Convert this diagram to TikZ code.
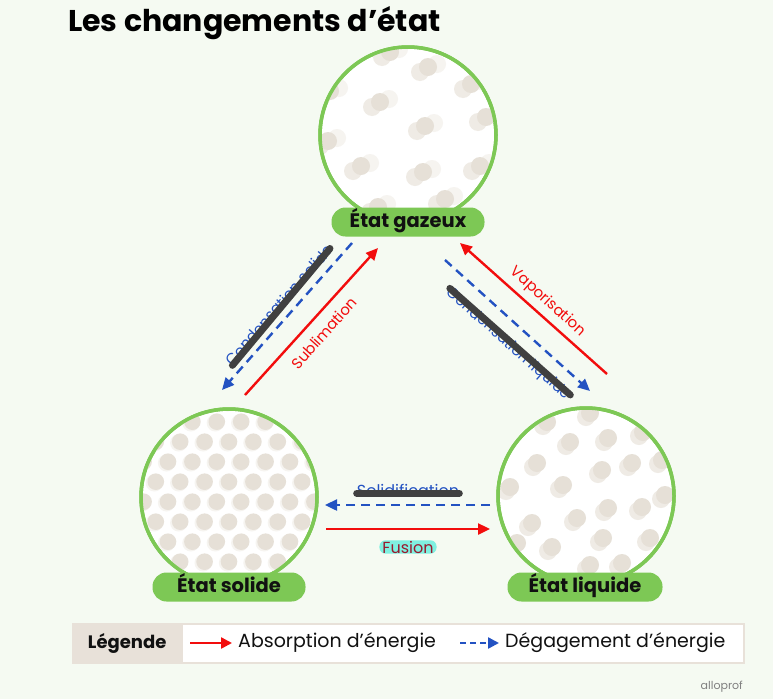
\documentclass[tikz,border=0pt]{standalone}
\usepackage{fontspec}
\setmainfont{Poppins}
\usetikzlibrary{arrows.meta,calc}
\definecolor{bg}{HTML}{F5FAF2}
\definecolor{grn}{HTML}{7DC855}
\definecolor{dotc}{HTML}{E6E0D7}
\definecolor{dotsh}{HTML}{EFEBE5}
\definecolor{dotsh2}{HTML}{F6F4F0}
\definecolor{redc}{HTML}{F20D0D}
\definecolor{bluec}{HTML}{2352C2}
\definecolor{strk}{HTML}{404040}
\definecolor{beige}{HTML}{E8E1D9}
\definecolor{fusc}{HTML}{9A1A2E}
\definecolor{cyanh}{HTML}{80F0E0}
\definecolor{txt}{HTML}{111111}
\begin{document}
\begin{tikzpicture}[x=1pt,y=-1pt,
  redarr/.style={draw=redc, line width=2.4pt, -{Triangle[length=12pt,width=11pt]}},
  bluearr/.style={draw=bluec, line width=2.4pt, dash pattern=on 9pt off 6pt, -{Triangle[length=12pt,width=11pt]}},
  statecirc/.style={circle, draw=grn, line width=3.5pt, minimum size=176pt, inner sep=0pt},
  pill/.style={fill=grn, rounded corners=14pt, minimum height=29pt, minimum width=153pt, inner sep=0pt, text height=14pt, text depth=3pt, text=txt, font=\fontsize{19.5}{21}\selectfont\bfseries},
  redlbl/.style={text=redc, font=\fontsize{15}{16}\selectfont, inner sep=0pt},
  bluelbl/.style={text=bluec, font=\fontsize{15}{16}\selectfont, inner sep=0pt},
  strike/.style={draw=strk, line width=7pt, line cap=round},
  gdot/.style={fill=dotc},
  legtxt/.style={text=txt, font=\fontsize{19}{21}\selectfont, inner sep=0pt, anchor=west}
]
\useasboundingbox (0,0) rectangle (773,699);
\fill[bg] (0,0) rectangle (773,699);

% title
\node[anchor=base west, inner sep=0pt, text=black, font=\fontsize{30}{33}\selectfont\bfseries] (title) at (68,31) {Les changements d’état};

% ---------- circles ----------
\node[statecirc, fill=white] (gas) at (408,135) {};
\node[statecirc, fill=white] (sol) at (229,497) {};
\node[statecirc, fill=white] (liq) at (586,496) {};

% gas particles
\begin{scope}
\clip (408,135) circle (87);
\foreach \x/\y in {390/52,428/67,471/84,330/91,380/102,486/117,425/126,328/141,361/166,423/172,480/166,445/199,378/207}{
  \fill[dotsh2] (\x+9,\y-3) circle (9);
  \fill[dotsh] (\x-8,\y+5) circle (9);
}
\foreach \x/\y in {390/52,428/67,471/84,330/91,380/102,486/117,425/126,328/141,361/166,423/172,480/166,445/199,378/207}{
  \fill[gdot] (\x,\y) circle (9);
}
\end{scope}

% solid particles
\begin{scope}
\clip (229,497) circle (87);
\foreach \k in {-3,...,6}{
  \foreach \j in {-4,...,8}{
    \pgfmathsetmacro\xx{168+24.4*\j+12.2*mod(\k+10,2)}
    \pgfmathsetmacro\yy{461.7+20*\k}
    \fill[dotsh2] (\xx-1.5,\yy+1.2) circle (8.6);
  }
}
\foreach \k in {-3,...,6}{
  \foreach \j in {-4,...,8}{
    \pgfmathsetmacro\xx{168+24.4*\j+12.2*mod(\k+10,2)}
    \pgfmathsetmacro\yy{461.7+20*\k}
    \fill[gdot] (\xx,\yy) circle (8.3);
  }
}
\end{scope}

% liquid particles
\begin{scope}
\clip (586,496) circle (87);
\foreach \x/\y in {590/413,547/422,643/432,570/442,608/438,537/463,602/470,632/463,662/460,510/487,563/485,665/495,608/508,642/507,532/523,577/518,603/538,650/538,517/543,552/547,590/565,622/563}{
  \fill[dotsh] (\x-4,\y+4) circle (9);
}
\foreach \x/\y in {590/413,547/422,643/432,570/442,608/438,537/463,602/470,632/463,662/460,510/487,563/485,665/495,608/508,642/507,532/523,577/518,603/538,650/538,517/543,552/547,590/565,622/563}{
  \fill[gdot] (\x,\y) circle (9);
}
\end{scope}

% redraw outlines on top
\node[statecirc] at (gas) {};
\node[statecirc] at (sol) {};
\node[statecirc] at (liq) {};

% pills
\node[pill] (gasl) at (408,222) {État gazeux};
\node[pill] (soll) at (229,587) {État solide};
\node[pill, minimum width=155pt] (liql) at (585,587) {État liquide};

% ---------- arrows ----------
\coordinate (sub1) at (245,395); \coordinate (sub2) at (378,248);
\coordinate (cso1) at (352,243); \coordinate (cso2) at (222,390);
\coordinate (vap1) at (607,374); \coordinate (vap2) at (460,243);
\coordinate (cli1) at (445,260); \coordinate (cli2) at (590,391);
\coordinate (sld1) at (490,505); \coordinate (sld2) at (325,505);
\coordinate (fus1) at (326,529); \coordinate (fus2) at (490,529);

\draw[redarr] (sub1) -- (sub2);
\draw[bluearr] (cso1) -- (cso2);
\draw[redarr] (vap1) -- (vap2);
\draw[bluearr] (cli1) -- (cli2);
\draw[bluearr] (sld1) -- (sld2);
\draw[redarr] (fus1) -- (fus2);

% labels
\node[redlbl, rotate=48] (lsub) at (324,333) {Sublimation};
\node[redlbl, rotate=-42] (lvap) at (548,302) {Vaporisation};
\node[bluelbl, rotate=49] (lcso) at (279,305) {Condensation solide};
\draw[strike] ([shift={(2pt,0pt)}]lcso.mid west) -- ([shift={(-2pt,0pt)}]lcso.mid east);
\node[bluelbl, rotate=-41.5] (lcli) at (508,344) {Condensation liquide};
\draw[strike] ($(lcli.north west)!0.3!(lcli.south west)$) -- ($(lcli.north east)!0.3!(lcli.south east)$);
\node[bluelbl, font=\fontsize{16}{17}\selectfont] (lsld) at (408,490) {Solidification};
\draw[strike] (lsld.mid west) -- (lsld.mid east);
\node[fill=cyanh, rounded corners=6pt, inner xsep=3pt, inner ysep=0.5pt, text=fusc, font=\fontsize{16}{17}\selectfont] (lfus) at (408,547) {Fusion};

% ---------- legend ----------
\fill[white] (182,623) rectangle (745,664);
\draw[beige, line width=2pt] (182,624) rectangle (744,663);
\node[fill=beige, minimum width=110pt, minimum height=41pt, inner sep=0pt, anchor=west, text=txt, font=\fontsize{18}{20}\selectfont\bfseries] (leg) at (72,643.5) {Légende};
\coordinate (la1) at (190,643); \coordinate (la2) at (232,643);
\draw[redarr, -{Triangle[length=11pt,width=11pt]}] (la1) -- (la2);
\node[legtxt] (labs) at (238,643) {Absorption d’énergie};
\coordinate (lb1) at (460,643); \coordinate (lb2) at (499,643);
\draw[bluearr, dash pattern=on 6pt off 4pt, -{Triangle[length=11pt,width=11pt]}] (lb1) -- (lb2);
\node[legtxt] (ldeg) at (505,643) {Dégagement d’énergie};

\node[anchor=east, inner sep=0pt, text=gray, font=\fontsize{11}{12}\selectfont] (allo) at (743,687) {alloprof};
\end{tikzpicture}
\end{document}
